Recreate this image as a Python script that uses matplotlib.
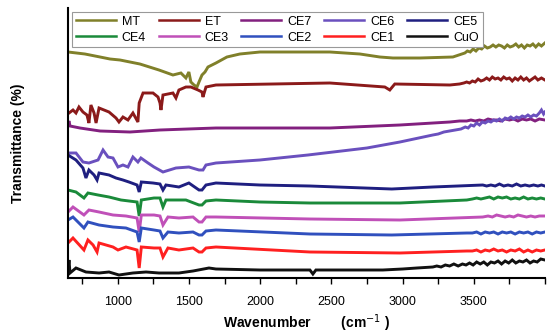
import matplotlib
matplotlib.use("Agg")
import matplotlib.pyplot as plt
from matplotlib.ticker import MultipleLocator

plt.rcParams['font.family'] = ['Liberation Sans', 'DejaVu Sans']

# ---- data (wavenumber, transmittance in arbitrary offset units) ----
mt_wn = [650, 769, 875, 945, 1015, 1155, 1289, 1387, 1443, 1478, 1499, 1513, 1535, 1556, 1570, 1591, 1612,
         1633, 1689, 1766, 1857, 1998, 2489, 2700, 2840, 2932, 3121, 3353, 3437, 3455, 3475, 3495, 3515,
         3535, 3555, 3575, 3595, 3615, 3635, 3655, 3675, 3695, 3715, 3735, 3755, 3775, 3795, 3815, 3835,
         3855, 3875, 3895, 3915, 3935, 3955, 3975, 3999]
mt_t = [226, 224, 221, 219, 218, 214, 208, 203, 205, 200, 206, 196, 193, 191, 196, 203, 206,
        211, 215, 221, 224, 226, 226, 224, 221, 220, 220, 221, 225, 227, 226, 229, 227,
        230, 229, 232, 230, 231, 233, 231, 233, 232, 230, 233, 231, 232, 234, 231, 233,
        230, 233, 232, 234, 231, 234, 232, 235]

et_wn = [650, 657, 685, 706, 727, 755, 783, 797, 811, 833, 847, 868, 903, 938, 987, 1008, 1036, 1071, 1106,
         1141, 1150, 1177, 1247, 1282, 1296, 1303, 1317, 1387, 1408, 1429, 1478, 1513, 1563, 1591, 1598, 1619,
         1689, 2489, 2875, 2910, 2945, 3332, 3400, 3430, 3450, 3470, 3490, 3510, 3530, 3550, 3570, 3590,
         3610, 3630, 3650, 3670, 3690, 3710, 3730, 3750, 3770, 3790, 3810, 3830, 3850, 3870, 3890, 3910,
         3930, 3950, 3975, 3999]
et_t = [166, 165, 168, 165, 171, 166, 163, 155, 173, 165, 155, 170, 168, 166, 160, 156, 161, 158, 165,
        156, 175, 185, 185, 181, 175, 168, 183, 185, 180, 188, 191, 191, 188, 186, 181, 191,
        193, 195, 191, 188, 194, 193, 194, 195, 196, 195, 197, 196, 199, 197, 198, 200,
        198, 201, 199, 200, 198, 201, 199, 200, 197, 200, 198, 201, 198, 200, 197, 199,
        201, 198, 200, 198]

ce7_wn = [650, 657, 664, 734, 875, 1085, 1296, 1689, 2489, 2981, 3332, 3400, 3450, 3480, 3510, 3540,
          3570, 3600, 3630, 3660, 3690, 3720, 3750, 3780, 3810, 3840, 3870, 3900, 3930, 3960, 3999]
ce7_t = [154, 157, 152, 150, 147, 146, 148, 150, 150, 153, 156, 157, 157, 158, 157, 158,
         157, 159, 158, 158, 157, 159, 158, 159, 157, 159, 158, 159, 157, 159, 158]

ce6_wn = [650, 706, 755, 797, 861, 896, 931, 966, 1001, 1036, 1071, 1106, 1141, 1162, 1212, 1254, 1317,
          1408, 1499, 1570, 1598, 1619, 1689, 1998, 2335, 2749, 2981, 3212, 3250, 3290, 3330, 3370, 3410,
          3440, 3460, 3480, 3500, 3520, 3540, 3560, 3580, 3600, 3620, 3640, 3660, 3680, 3700, 3720, 3740,
          3760, 3780, 3800, 3820, 3840, 3860, 3880, 3900, 3920, 3940, 3960, 3975, 3990, 3999]
ce6_t = [125, 125, 116, 115, 118, 128, 121, 120, 111, 113, 111, 121, 116, 120, 115, 111, 106,
         110, 111, 108, 108, 113, 115, 118, 123, 130, 136, 143, 144, 146, 147, 148, 149,
         151, 150, 153, 152, 155, 153, 156, 155, 157, 156, 158, 157, 159, 157, 160, 159,
         161, 159, 161, 160, 162, 161, 163, 161, 163, 162, 165, 168, 164, 166]

ce5_wn = [650, 706, 755, 776, 797, 833, 854, 868, 938, 987, 1036, 1078, 1135, 1150, 1165, 1247, 1296, 1317,
          1338, 1429, 1499, 1570, 1591, 1619, 1689, 1998, 2349, 2924, 3212, 3563, 3590, 3620, 3650, 3680,
          3710, 3740, 3770, 3800, 3830, 3860, 3890, 3920, 3950, 3975, 3999]
ce5_t = [123, 118, 110, 100, 108, 103, 98, 105, 103, 100, 98, 96, 93, 86, 96, 95, 94, 88,
         93, 91, 95, 88, 88, 93, 95, 93, 92, 89, 91, 93, 92, 93, 92, 94,
         92, 93, 92, 94, 92, 93, 92, 93, 92, 93, 92]

ce4_wn = [650, 706, 762, 790, 861, 938, 1022, 1135, 1150, 1165, 1254, 1296, 1317, 1338, 1478, 1570, 1591,
          1619, 1689, 1998, 2349, 2981, 3451, 3490, 3520, 3550, 3580, 3610, 3640, 3670, 3700, 3730, 3760,
          3790, 3820, 3850, 3880, 3910, 3940, 3970, 3999]
ce4_t = [88, 86, 80, 85, 83, 81, 78, 76, 62, 78, 80, 80, 71, 78, 78, 73, 73,
         77, 78, 76, 75, 75, 78, 79, 80, 79, 80, 81, 79, 81, 80, 81, 79,
         80, 79, 81, 79, 80, 79, 80, 79]

ce3_wn = [650, 685, 762, 797, 868, 966, 1057, 1135, 1150, 1165, 1254, 1296, 1317, 1352, 1429, 1528, 1570,
          1591, 1619, 1689, 2349, 2981, 3563, 3600, 3630, 3660, 3690, 3720, 3750, 3780, 3810, 3840, 3870,
          3900, 3930, 3960, 3999]
ce3_t = [66, 71, 63, 68, 66, 63, 62, 60, 46, 63, 63, 62, 53, 61, 60, 61, 56,
         56, 61, 61, 59, 58, 61, 62, 61, 63, 62, 61, 62, 61, 63, 62, 61,
         62, 61, 62, 62]

ce2_wn = [650, 685, 762, 790, 868, 966, 1057, 1135, 1150, 1165, 1254, 1296, 1317, 1352, 1429, 1528, 1570,
          1591, 1619, 1689, 2349, 2924, 3451, 3490, 3520, 3550, 3580, 3610, 3640, 3670, 3700, 3730, 3760,
          3790, 3820, 3850, 3880, 3910, 3940, 3970, 3999]
ce2_t = [58, 61, 50, 56, 53, 51, 50, 46, 36, 50, 48, 47, 40, 46, 45, 46, 43,
         43, 47, 48, 44, 43, 45, 45, 46, 44, 46, 45, 46, 44, 46, 45, 46,
         44, 46, 45, 46, 44, 46, 45, 46]

ce1_wn = [650, 685, 762, 790, 826, 854, 868, 966, 1001, 1057, 1135, 1150, 1165, 1254, 1296, 1317, 1352,
          1429, 1528, 1570, 1591, 1619, 1689, 2349, 2981, 3451, 3490, 3520, 3550, 3580, 3610, 3640, 3670,
          3700, 3730, 3760, 3790, 3820, 3850, 3880, 3910, 3940, 3970, 3999]
ce1_t = [35, 40, 28, 38, 33, 26, 35, 31, 28, 31, 28, 10, 31, 30, 30, 21, 30,
         28, 30, 26, 26, 30, 31, 26, 25, 27, 27, 28, 26, 28, 27, 29, 27,
         28, 26, 28, 27, 29, 26, 28, 26, 28, 27, 28]

cuo_wn = [650, 657, 664, 706, 776, 868, 938, 1008, 1106, 1198, 1289, 1429, 1528, 1640, 1689, 1998, 2349,
          2370, 2391, 2861, 3000, 3100, 3212, 3240, 3270, 3300, 3330, 3360, 3390, 3420, 3445, 3470, 3495,
          3520, 3545, 3570, 3595, 3620, 3645, 3670, 3695, 3720, 3745, 3770, 3795, 3820, 3845, 3870, 3895,
          3920, 3945, 3970, 3999]
cuo_t = [8, 18, 5, 10, 6, 5, 6, 3, 5, 6, 5, 5, 7, 10, 9, 8, 8,
         4, 8, 8, 9, 10, 11, 12, 11, 13, 12, 14, 12, 14, 13, 15, 13,
         16, 14, 16, 13, 16, 15, 17, 14, 17, 15, 18, 15, 17, 16, 18, 15,
         17, 16, 19, 18]

labels = ["MT", "ET", "CE7", "CE6", "CE5", "CE4", "CE3", "CE2", "CE1", "CuO"]
colors = ["#80802A", "#8B1A1A", "#82207F", "#6A50BE", "#1F1F80",
          "#1A8A3A", "#C050B8", "#3050BE", "#FF2020", "#111111"]
series_wn = [mt_wn, et_wn, ce7_wn, ce6_wn, ce5_wn, ce4_wn, ce3_wn, ce2_wn, ce1_wn, cuo_wn]
series_t = [mt_t, et_t, ce7_t, ce6_t, ce5_t, ce4_t, ce3_t, ce2_t, ce1_t, cuo_t]

fig = plt.figure(figsize=(5.5, 3.35), dpi=100)
ax = fig.add_axes([68 / 550, 57 / 335, 477 / 550, 270 / 335])

handles = {}
for lab, c, x, y in zip(labels, colors, series_wn, series_t):
    h, = ax.plot(x, y, color=c, lw=2.1, solid_joinstyle='miter')
    handles[lab] = h

ax.set_xlim(650, 4000)
ax.set_ylim(0, 270)
ax.xaxis.set_minor_locator(MultipleLocator(250))
ax.set_xticks([1000, 1500, 2000, 2500, 3000, 3500])
ax.set_yticks([])
ax.tick_params(axis='x', which='both', direction='out', length=4, width=1, pad=9, labelsize=9)
for s in ['top', 'right']:
    ax.spines[s].set_visible(False)
ax.spines['left'].set_linewidth(1.5)
ax.spines['bottom'].set_linewidth(1.5)

ax.set_xlabel("Wavenumber        (cm$^{-1}$ )", fontsize=10, fontweight='bold', labelpad=3)
ax.set_ylabel("Transmittance (%)", fontsize=10, fontweight='bold')
ax.yaxis.set_label_coords(-0.09, 0.5)

order = ["MT", "CE4", "ET", "CE3", "CE7", "CE2", "CE6", "CE1", "CE5", "CuO"]
leg = ax.legend([handles[k] for k in order], order, ncol=5, loc='upper left',
                bbox_to_anchor=(0.008, 0.985), borderaxespad=0, fontsize=9,
                handlelength=3.2, handletextpad=0.5, columnspacing=1.0,
                labelspacing=0.3, borderpad=0.3, fancybox=False, framealpha=1)
leg.get_frame().set_edgecolor('#999999')
leg.get_frame().set_linewidth(0.8)
for l in leg.get_lines():
    l.set_linewidth(1.8)

fig.savefig("out.png", dpi=100)
